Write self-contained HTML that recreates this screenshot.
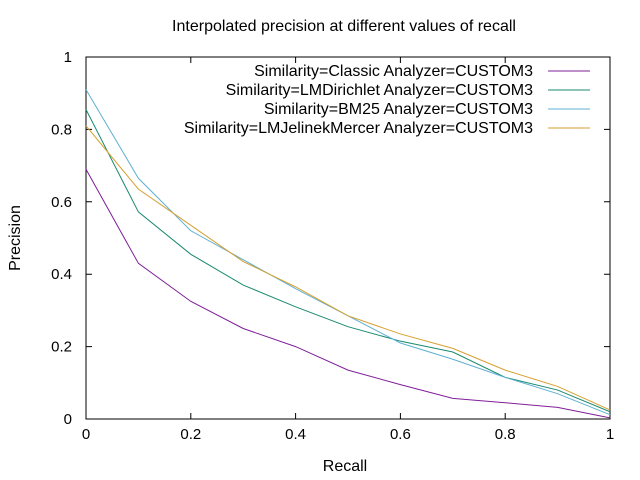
<!DOCTYPE html>
<html><head><meta charset="utf-8"><style>body{margin:0;background:#fff}svg{display:block;font-family:"Liberation Sans",sans-serif}</style></head>
<body>
<svg id="chart" width="640" height="480" xmlns="http://www.w3.org/2000/svg">
<text x="344" y="31" font-size="16" text-anchor="middle">Interpolated precision at different values of recall</text>
<g id="axes"></g>
<g id="series"></g>
<g id="legend"></g>
<text x="345" y="471" font-size="16" text-anchor="middle">Recall</text>
<text transform="translate(20,238) rotate(-90)" font-size="16" text-anchor="middle">Precision</text>
</svg>
<script>
const recall = [0,0.1,0.2,0.3,0.4,0.5,0.6,0.7,0.8,0.9,1];
const seriesNames = ["Similarity=Classic Analyzer=CUSTOM3","Similarity=LMDirichlet Analyzer=CUSTOM3","Similarity=BM25 Analyzer=CUSTOM3","Similarity=LMJelinekMercer Analyzer=CUSTOM3"];
const classicVals = [0.69,0.43,0.325,0.25,0.2,0.135,0.095,0.057,0.045,0.032,0.003];
const dirichletVals = [0.855,0.572,0.455,0.37,0.31,0.255,0.215,0.185,0.115,0.08,0.02];
const bm25Vals = [0.91,0.665,0.52,0.44,0.36,0.285,0.21,0.165,0.115,0.07,0.012];
const jelinekVals = [0.81,0.635,0.535,0.435,0.365,0.285,0.235,0.195,0.135,0.09,0.025];
const xTicks = [0,0.2,0.4,0.6,0.8,1];
const yTicks = [0,0.2,0.4,0.6,0.8,1];
const xTickLabels = ["0","0.2","0.4","0.6","0.8","1"];
const yTickLabels = ["0","0.2","0.4","0.6","0.8","1"];

const colors = ["#7f1f9a","#1a8a70","#5fb0d2","#d6a030"];
const allVals = [classicVals,dirichletVals,bm25Vals,jelinekVals];
const slugs = ["classic","lmdirichlet","bm25","lmjelinekmercer"];
const L=86,R=610,T=57,B=419;
const xs=v=>L+v*(R-L), ys=v=>B-v*(B-T);
const NS="http://www.w3.org/2000/svg";
function mk(tag,attrs,parent){const e=document.createElementNS(NS,tag);for(const k in attrs)e.setAttribute(k,attrs[k]);parent.appendChild(e);return e;}
const axes=document.getElementById('axes');
const frame=mk('rect',{x:L,y:T,width:R-L,height:B-T,fill:'none',stroke:'#000','stroke-width':1},axes);


xTicks.forEach((t,i)=>{
  const x=xs(t);
  const a=mk('path',{d:`M${x},${B}v-6M${x},${T}v6`,stroke:'#000'},axes);
  
  
  const tx=mk('text',{x:x,y:B+20,'font-size':15,'text-anchor':'middle'},axes);tx.textContent=xTickLabels[i];
  
  
});
yTicks.forEach((t,i)=>{
  const y=ys(t);
  const a=mk('path',{d:`M${L},${y}h6M${R},${y}h-6`,stroke:'#000'},axes);
  
  
  const tx=mk('text',{x:L-14,y:y+5,'font-size':15,'text-anchor':'end'},axes);tx.textContent=yTickLabels[i];
  
  
});
const sg=document.getElementById('series'), lg=document.getElementById('legend');
allVals.forEach((vals,s)=>{
  const pts=vals.map((v,i)=>xs(recall[i])+','+ys(v)).join(' ');
  const pl=mk('polyline',{points:pts,fill:'none',stroke:colors[s],'stroke-width':1},sg);
  
  
  const y=71+s*19;
  const tx=mk('text',{x:533,y:y+5,'font-size':16,'text-anchor':'end'},lg);tx.textContent=seriesNames[s];
  
  
  const ln=mk('line',{x1:548,x2:590,y1:y,y2:y,stroke:colors[s]},lg);
  
  
});
</script>
</body></html>
